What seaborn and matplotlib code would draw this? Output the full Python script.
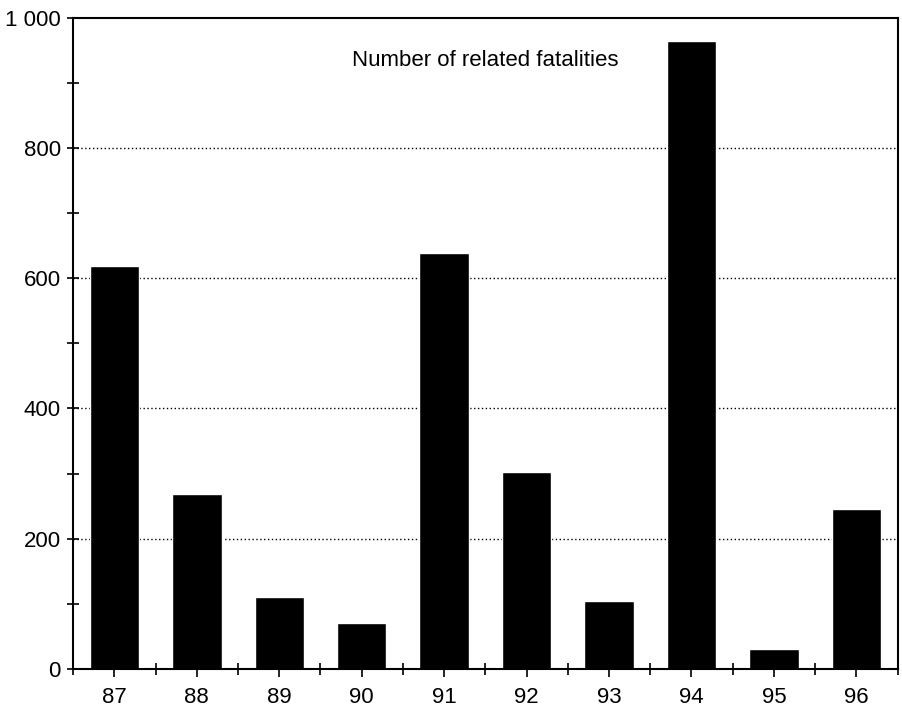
import matplotlib
matplotlib.use("Agg")
import matplotlib.pyplot as plt
import matplotlib.ticker as mticker
import seaborn as sns
import pandas as pd

years = ["87", "88", "89", "90", "91", "92", "93", "94", "95", "96"]
fatalities = [618, 269, 111, 71, 638, 303, 104, 964, 31, 245]
title = "Number of related fatalities"

sns.set_style("white")
plt.rcParams['font.family'] = ['Liberation Sans', 'DejaVu Sans']

df = pd.DataFrame({"year": years, "n": fatalities})

fig = plt.figure(figsize=(9.03, 7.13), dpi=100)
ax = fig.add_axes([0.081, 0.062, 0.913, 0.913])
sns.barplot(data=df, x="year", y="n", color="black", saturation=1,
            width=0.6, ax=ax)

ax.set_xlim(-0.5, len(years) - 0.5)
ax.set_ylim(0, 1000)
ax.set_xlabel("")
ax.set_ylabel("")

ax.yaxis.set_major_locator(mticker.MultipleLocator(200))
ax.yaxis.set_minor_locator(mticker.MultipleLocator(100))
ax.yaxis.set_major_formatter(mticker.FuncFormatter(
    lambda v, p: f"{int(v):,}".replace(",", " ")))
ax.xaxis.set_minor_locator(mticker.FixedLocator(
    [i + 0.5 for i in range(-1, len(years))]))

ax.tick_params(axis="y", which="both", direction="inout", length=8,
               width=1.2, color="black", labelsize=16, pad=5, left=True,
               labelcolor="black")
ax.tick_params(axis="x", which="major", direction="out", length=6,
               width=1.2, color="black", labelsize=16, pad=7, bottom=True,
               labelcolor="black")
ax.tick_params(axis="x", which="minor", direction="inout", length=8,
               width=1.2, color="black", bottom=True)

for y in [200, 400, 600, 800]:
    ax.axhline(y, color="black", linestyle=(0, (1, 1.8)), linewidth=1.0,
               zorder=0)

for s in ax.spines.values():
    s.set_visible(True)
    s.set_color("black")
    s.set_linewidth(1.5)

ax.text(0.5, 0.935, title, transform=ax.transAxes, ha="center",
        va="center", fontsize=16, color="black")

fig.savefig("out.png", dpi=100)
